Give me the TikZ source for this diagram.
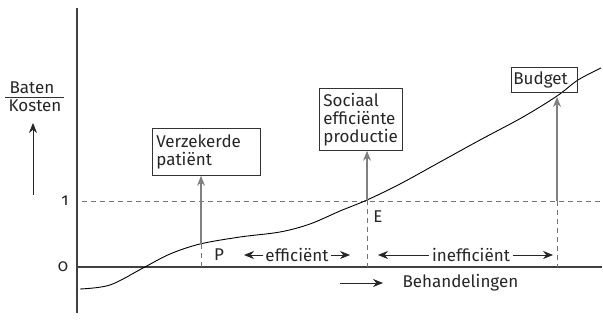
\documentclass[tikz,border=0pt]{standalone}
\usepackage{fontspec}
\setmainfont{Fira Sans}[Numbers=OldStyle]
\usetikzlibrary{arrows.meta}
\begin{document}
\begin{tikzpicture}[x=1pt,y=-1pt,
  every node/.style={font=\fontsize{17}{18}\selectfont, text=black!85},
  axis/.style={draw=black!75, line width=1.2pt},
  guide/.style={draw=black!55, dashed, dash pattern=on 5pt off 4pt, line width=0.6pt},
  pointer/.style={draw=black!50, line width=1.1pt, -{Stealth[length=10pt,width=8pt]}},
  span/.style={draw=black!85, line width=0.8pt, -{Stealth[length=10pt,width=8pt]}},
  box/.style={draw=black!80, line width=0.8pt, anchor=north west, inner sep=4pt, align=left}]
\useasboundingbox (0,0) rectangle (603,321);

% axes
\coordinate (yb) at (77,313);
\coordinate (yt) at (77,8);
\coordinate (x0) at (77,267);
\coordinate (xe) at (602,267);
\draw[axis] (yb) -- (yt);
\draw[axis] (x0) -- (xe);

% level 1
\coordinate (d0) at (82,201);
\coordinate (d1) at (602,201);
\draw[guide] (d0) -- (d1);
\node (one) at (65,201) {1};
\node (zero) at (63,267) {0};

% ratio label
\node (bat) at (32,88) {Baten};
\node (kos) at (35,106) {Kosten};
\coordinate (fl) at (5,97);
\coordinate (fr) at (64,97);
\draw[line width=0.7pt, black!80] (fl) -- (fr);
\coordinate (ua) at (33,195);
\coordinate (ub) at (33,123);
\draw[span] (ua) -- (ub);

% benefit/cost curve
\draw[line width=0.9pt, black] plot[smooth, tension=0.55] coordinates {
  (80,289) (110,285) (143,268) (170,254) (200,244) (240,237) (280,232)
  (310,224) (340,211) (367,200) (400,184) (440,162) (480,140)
  (523,117) (557,96) (578,80) (601,68)};

% boxes
\node[box, minimum width=108pt, minimum height=47pt, text width=100pt] (vp) at (152,128) {Verzekerde\\patiënt};
\node[box, minimum width=83pt, minimum height=62pt, text width=75pt] (se) at (319,88) {Sociaal\\efficiënte\\productie};
\node[box, minimum width=66pt, minimum height=25pt, inner sep=2pt, text width=62pt] (bu) at (511,67) {Budget};

% markers
\coordinate (pc) at (201,244);
\coordinate (pa) at (201,267);
\coordinate (ec) at (367,200);
\coordinate (ea) at (367,267);
\coordinate (bc) at (557,97);
\coordinate (bd) at (557,201);
\coordinate (ba) at (557,267);
\draw[pointer] (pc) -- (vp.south -| pc);
\draw[pointer] (ec) -- (se.south -| ec);
\draw[pointer] (bd) -- (bc);
\draw[guide] (pc) -- (pa);
\draw[guide] (ec) -- (ea);
\draw[guide] (bd) -- (ba);
\node (P) at (219,255) {P};
\node (E) at (378,217) {E};

% ranges
\node[inner sep=2pt] (eff) at (297,255) {efficiënt};
\coordinate (el) at (244,255);
\coordinate (er) at (350,255);
\draw[span] (eff.west) -- (el);
\draw[span] (eff.east) -- (er);
\node[inner sep=3pt] (ineff) at (471,255) {inefficiënt};
\coordinate (il) at (378,255);
\coordinate (ir) at (553,255);
\draw[span] (ineff.west) -- (il);
\draw[span] (ineff.east) -- (ir);

% horizontal axis label
\coordinate (ha) at (340,283);
\coordinate (hb) at (383,283);
\draw[span] (ha) -- (hb);
\node[anchor=west] (beh) at (399,283) {Behandelingen};
\end{tikzpicture}
\end{document}
